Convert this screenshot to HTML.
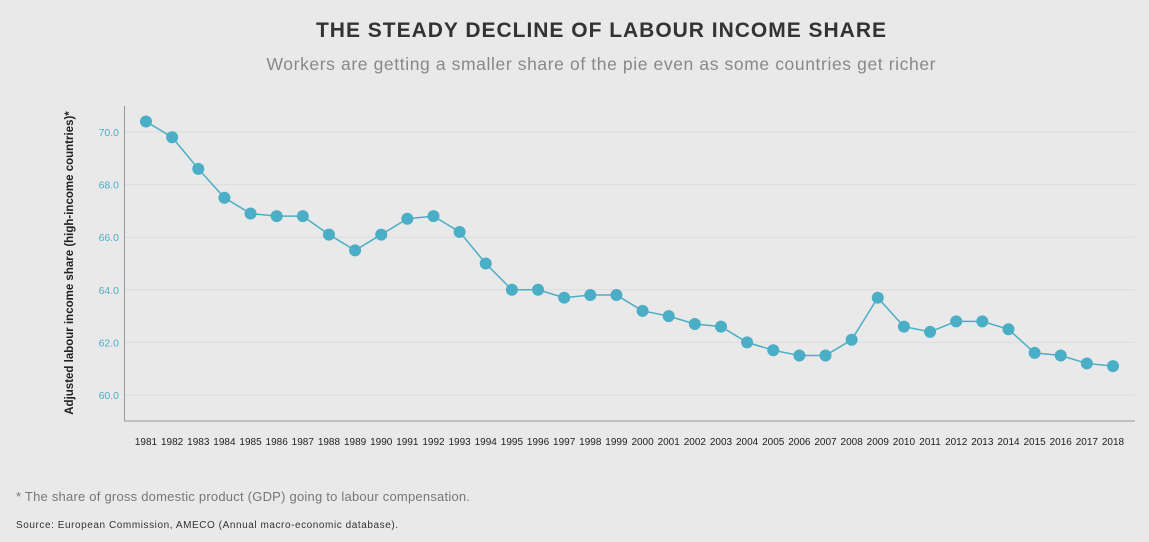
<!DOCTYPE html>
<html><head><meta charset="utf-8"><style>
body{margin:0;background:#e9e9e9;width:1149px;height:542px;overflow:hidden;font-family:"Liberation Sans",sans-serif;}
</style></head><body>
<svg width="1149" height="542" style="position:absolute;left:0;top:0">
<text x="601" y="37" text-anchor="middle" font-size="21" font-weight="bold" fill="#333" textLength="570" lengthAdjust="spacing">THE STEADY DECLINE OF LABOUR INCOME SHARE</text>
<text x="601" y="70" text-anchor="middle" font-size="17.5" fill="#888" textLength="669" lengthAdjust="spacing">Workers are getting a smaller share of the pie even as some countries get richer</text>
<text transform="translate(73,263) rotate(-90)" text-anchor="middle" font-size="11.5" font-weight="bold" fill="#222">Adjusted labour income share (high-income countries)*</text>
<g id="grid"></g><g id="ticks"></g><g id="xlabels"></g>
<line x1="124.5" y1="106" x2="124.5" y2="421" stroke="#999"/>
<line x1="124" y1="421" x2="1135" y2="421" stroke="#999"/>
<g id="series"></g>
<text x="16" y="501" font-size="13" fill="#777" textLength="454" lengthAdjust="spacing">* The share of gross domestic product (GDP) going to labour compensation.</text>
<text x="16" y="528" font-size="10" fill="#333" textLength="382" lengthAdjust="spacing">Source: European Commission, AMECO (Annual macro-economic database).</text>
</svg>
<script>
const years=[1981,1982,1983,1984,1985,1986,1987,1988,1989,1990,1991,1992,1993,1994,1995,1996,1997,1998,1999,2000,2001,2002,2003,2004,2005,2006,2007,2008,2009,2010,2011,2012,2013,2014,2015,2016,2017,2018];
const values=[70.4,69.8,68.6,67.5,66.9,66.8,66.8,66.1,65.5,66.1,66.7,66.8,66.2,65.0,64.0,64.0,63.7,63.8,63.8,63.2,63.0,62.7,62.6,62.0,61.7,61.5,61.5,62.1,63.7,62.6,62.4,62.8,62.8,62.5,61.6,61.5,61.2,61.1];
const yTicks=[60,62,64,66,68,70];
const NS='http://www.w3.org/2000/svg';
const yS=v=>395-(v-60)*26.3;
const xS=i=>146+i*(967/37);
function mk(t,a,p){const e=document.createElementNS(NS,t);for(const k in a)e.setAttribute(k,a[k]);document.getElementById(p).appendChild(e);return e;}
yTicks.forEach(v=>{
 const g=mk('line',{x1:125,x2:1135,y1:yS(v),y2:yS(v),stroke:'#dcdcdc'},'grid');
 
 
 const t=mk('text',{x:119,y:yS(v)+4,'text-anchor':'end','font-size':'10.5',fill:'#4aaec6'},'ticks');
 t.textContent=v.toFixed(1);
 
 
});
years.forEach((y,i)=>{
 const t=mk('text',{x:xS(i),y:445,'text-anchor':'middle','font-size':'10',fill:'#222'},'xlabels');
 t.textContent=y;
 
 
});
const pl=mk('polyline',{points:values.map((v,i)=>xS(i)+','+yS(v)).join(' '),fill:'none',stroke:'#4aaec6','stroke-width':1.5},'series');


values.forEach((v,i)=>{
 const c=mk('circle',{cx:xS(i),cy:yS(v),r:6,fill:'#4aaec6'},'series');
 
 
});
</script>
</body></html>
